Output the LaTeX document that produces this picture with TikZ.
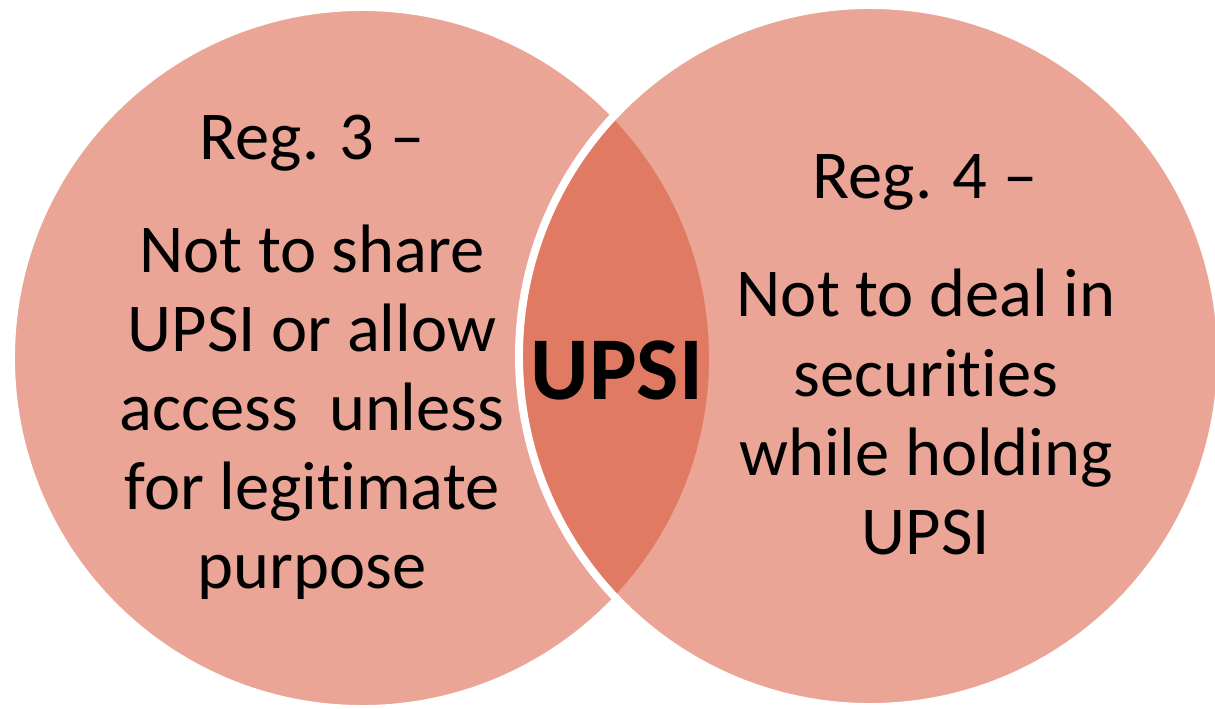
\documentclass[tikz,border=0pt]{standalone}
\usepackage{fontspec}
\setmainfont{Carlito}[Ligatures=NoCommon]
\usepackage{tikz}

\definecolor{regfill}{RGB}{215,83,53}

\tikzset{
  regcircle/.style={fill=regfill,fill opacity=0.52,draw=white,line width=4.5},
  regtext/.style={align=center,font=\fontsize{39}{45}\selectfont,text=black}
}

\begin{document}
\begin{tikzpicture}[x=0.02cm,y=-0.02cm]
      \useasboundingbox (0,0) rectangle (1215,708);

      \draw [regcircle] (362,358) circle [radius=351];
      \draw [regcircle] (870,356) circle [radius=351];

      \node [regtext] (regthree) at (312,143) {Reg. 3 --};
      \node [regtext] (sharebody) at (312,412) {Not to share\\UPSI or allow\\access\ \ unless\\for legitimate\\purpose};

      \node [regtext] (regfour) at (925,182) {Reg. 4 --};
      \node [regtext] (dealbody) at (926,412) {Not to deal in\\securities\\while holding\\UPSI};

      \node [font=\fontsize{51}{56}\selectfont\bfseries] (upsi) at (617,370) {UPSI};

    \end{tikzpicture}
\end{document}
